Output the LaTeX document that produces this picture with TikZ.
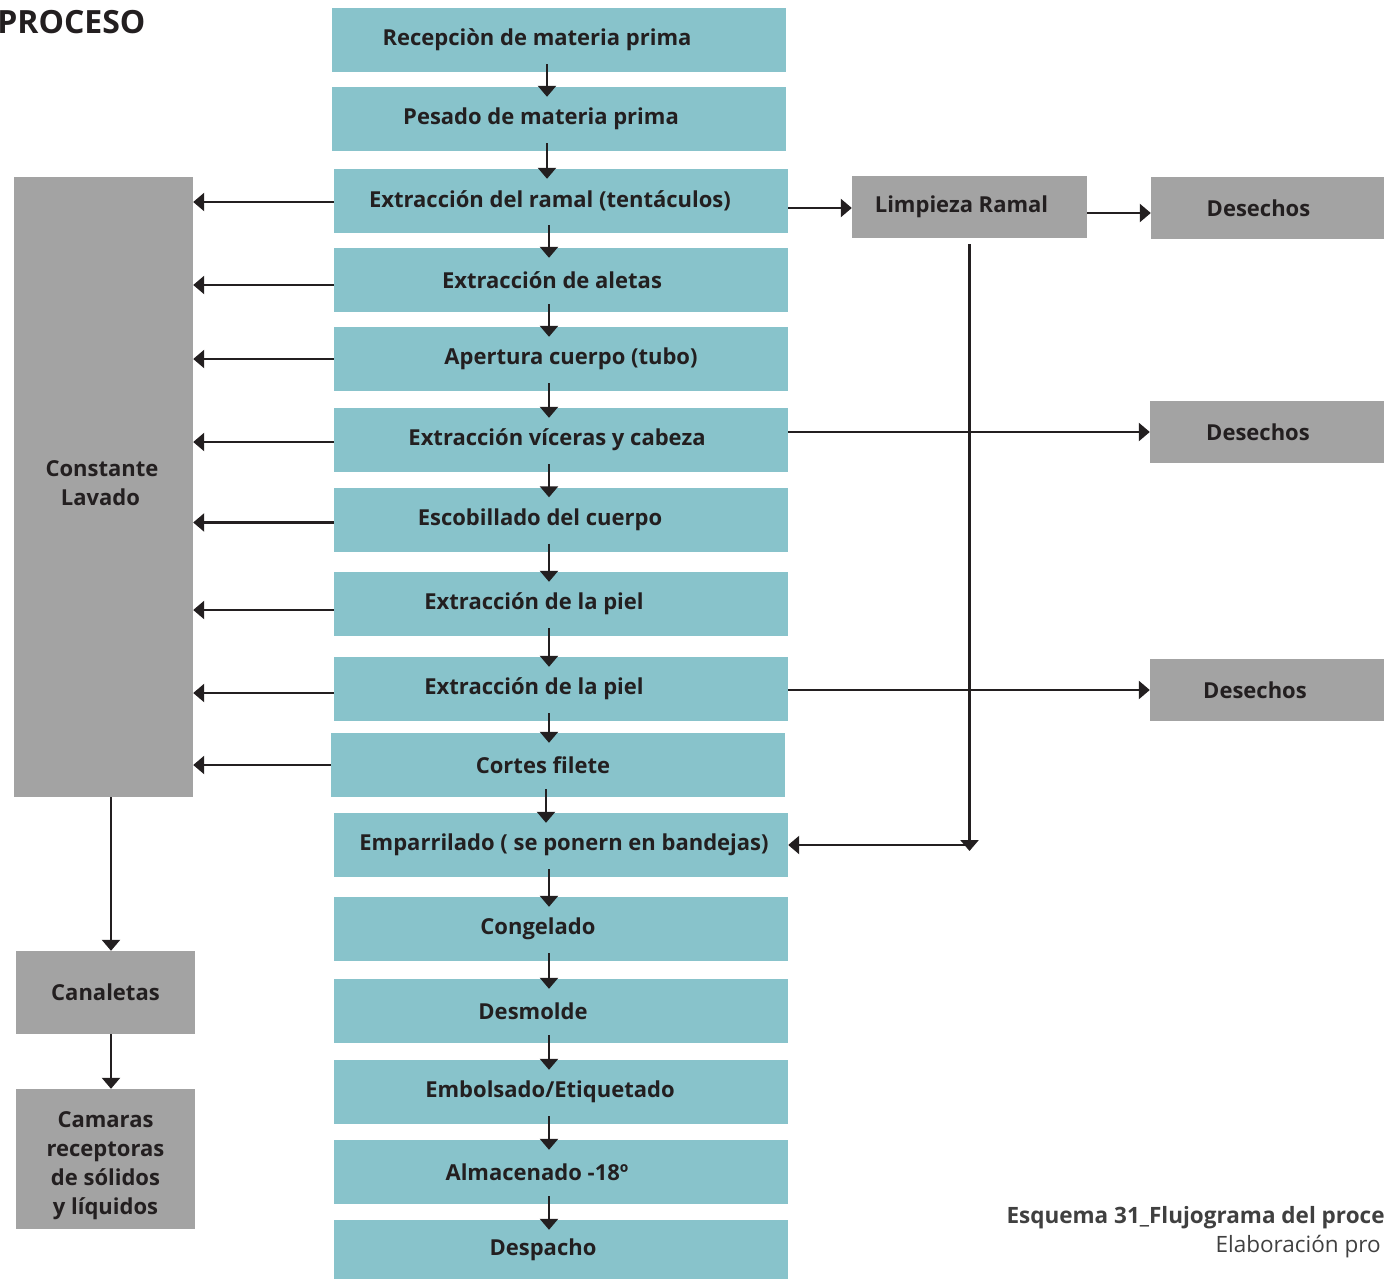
\documentclass[tikz,border=0pt]{standalone}
\usepackage{fontspec}
\setmainfont{Open Sans}
\usetikzlibrary{arrows.meta}
\definecolor{pasoc}{HTML}{88C3CB}
\definecolor{grisc}{HTML}{A3A3A3}
\definecolor{txtc}{HTML}{231F20}
\definecolor{capc}{HTML}{404040}
\newcommand{\desp}[2]{\hspace*{#1pt}#2\hspace*{-#1pt}}

\begin{document}
\begin{tikzpicture}[x=1pt,y=-1pt,>={Triangle[length=11pt,width=18pt]},
  paso/.style={fill=pasoc,minimum width=454pt,minimum height=64pt,inner sep=0pt,text=txtc,font=\bfseries\fontsize{22}{26}\selectfont},
  gris/.style={fill=grisc,inner sep=0pt,text=txtc,align=center,font=\bfseries\fontsize{22}{29}\selectfont},
  flecha/.style={draw=txtc,line width=2.5pt,->}]
  \useasboundingbox (0,0) rectangle (1384,1279);
  % pasos del proceso
  \foreach \n/\x/\y/\d/\t in {1/559/40/-22/{Recepciòn de materia prima},2/559/119/-18/{Pesado de materia prima},
      3/561/201/-11/{Extracción del ramal (tentáculos)},4/561/280/-9/{Extracción de aletas},
      5/561/359/10/{Apertura cuerpo (tubo)},6/561/440/-4/{Extracción víceras y cabeza},
      7/561/519.5/-21/{Escobillado del cuerpo},8/561/604/-27/{Extracción de la piel},
      9/561/689/-27/{Extracción de la piel},10/558/765/-15/{Cortes filete},
      11/561/845/3/{Emparrilado ( se ponern en bandejas)},12/561/929/-23/{Congelado},
      13/561/1011/-28/{Desmolde},14/561/1092/-11/{Embolsado/Etiquetado},
      15/561/1172/-24/{Almacenado -18º}}
    {\node[paso] (p\n) at (\x,\y) {\desp{\d}{\t}};}
  \node[paso,minimum height=59pt] (p16) at (561,1249.5) {\desp{-18}{Despacho}};
  \foreach \a/\b in {1/2,2/3,3/4,4/5,5/6,6/7,7/8,8/9,9/10,10/11,11/12,12/13,13/14,14/15,15/16}
    {\draw[flecha,shorten <=-8pt,shorten >=-10pt] ([xshift=-12pt]p\a.south) -- ([xshift=-12pt]p\a.south |- p\b.north);}
  % lavado y residuos
  \node[gris,minimum width=179pt,minimum height=620pt] (lav) at (103.5,487) {\\[-20pt]\desp{-3}{Constante}\\\desp{-3}{Lavado}};
  \node[gris,minimum width=179pt,minimum height=83pt] (can) at (105.5,992.5) {Canaletas};
  \node[gris,minimum width=179pt,minimum height=140pt] (cam) at (105.5,1159) {\\[0pt]Camaras\\receptoras\\de sólidos\\y líquidos};
  \node[gris,minimum width=235pt,minimum height=62pt] (limp) at (969.5,207) {\desp{-8}{Limpieza Ramal}};
  \node[gris,minimum width=233pt,minimum height=62pt] (des1) at (1267.5,208) {\desp{-9}{Desechos}};
  \node[gris,minimum width=234pt,minimum height=62pt] (des2) at (1267,432) {\desp{-9}{Desechos}};
  \node[gris,minimum width=234pt,minimum height=62pt] (des3) at (1267,690) {\desp{-12}{Desechos}};
  \foreach \n/\s in {3/-1,4/-5,5/0,6/-2,7/-3,8/-6,9/-4,10/0}
    {\draw[flecha] ([yshift=\s pt]p\n.west) -- ([yshift=\s pt]p\n.west -| lav.east);}
  \draw[flecha] ([xshift=7.5pt]lav.south) -- ([xshift=7.5pt]lav.south |- can.north);
  \draw[flecha] ([xshift=5.5pt]can.south) -- ([xshift=5.5pt]cam.north);
  \draw[flecha] ([yshift=-7pt]p3.east) -- ([yshift=-7pt]p3.east -| limp.west);
  \draw[flecha] ([yshift=-6pt]limp.east) -- ([yshift=-6pt]limp.east -| des1.west);
  \draw[flecha] (p6.east |- des2.center) -- (des2.west);
  \draw[flecha] (p9.east |- des3.center) -- (des3.west);
  \coordinate (codo) at (limp.south |- p11.east);
  \draw[flecha,shorten <=6pt] (limp.south) -- ([yshift=-6pt]codo);
  \draw[flecha] (codo) -- (p11.east);
  % textos
  \node[anchor=east,text=txtc,font=\bfseries\fontsize{32}{36}\selectfont] (tit) at (149,22) {PROCESO};
  \node[anchor=west,text=capc,font=\bfseries\fontsize{22.5}{26}\selectfont] (cap1) at (1003,1218) {Esquema 31\_Flujograma del proce};
  \node[anchor=west,text=capc,font=\fontsize{22.5}{26}\selectfont] (cap2) at (1212,1247) {Elaboración pro};
\end{tikzpicture}
\end{document}
